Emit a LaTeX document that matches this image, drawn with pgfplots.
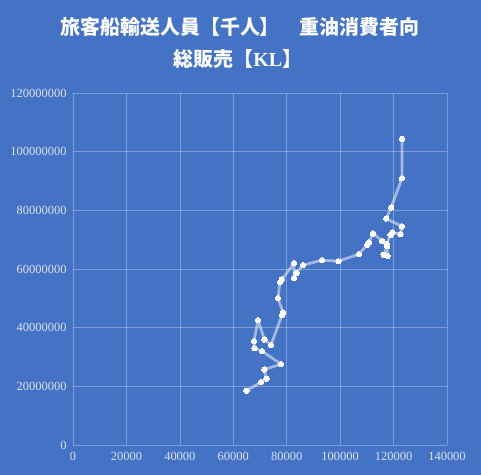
\documentclass[border=0pt]{standalone}
\usepackage{pgfplots}
\pgfplotsset{compat=1.18}
\usepackage{fontspec}
\setmainfont{Liberation Serif}
\newfontfamily\cjk{Noto Sans CJK JP}
\definecolor{bgblue}{RGB}{68,114,196}
\definecolor{ticklab}{RGB}{222,226,235}
\begin{document}
\begin{tikzpicture}[x=1bp,y=1bp]
\fill[bgblue] (-73,-30) rectangle (408,445);
\begin{axis}[
  at={(0,0)}, anchor=south west,
  scale only axis, width=374bp, height=352bp,
  xmin=0, xmax=140000, ymin=0, ymax=120000000,
  axis line style={draw=none},
  grid=major, major grid style={draw=white, draw opacity=0.3, line width=0.6pt},
  tick style={draw=none},
  xtick={0,20000,40000,60000,80000,100000,120000,140000},
  xticklabels={0,20000,40000,60000,80000,100000,120000,140000},
  ytick={0,20000000,40000000,60000000,80000000,100000000,120000000},
  yticklabels={0,20000000,40000000,60000000,80000000,100000000,120000000},
  scaled x ticks=false, scaled y ticks=false,
  ticklabel style={font=\fontsize{12.5}{13}\selectfont, text=ticklab},
  x tick label style={yshift=-4bp},
  y tick label style={xshift=-3bp},
  clip=false,
]
\addplot[draw=white, draw opacity=0.5, line width=2.8pt, line join=round,
  mark=*, mark size=2.7bp, mark options={draw=white, fill=white, draw opacity=1, line width=0pt}]
coordinates {
(64904,18460000)
(70368,21430000)
(72390,22560000)
(71641,25730000)
(77854,27580000)
(70743,32010000)
(67898,33040000)
(67748,35430000)
(69246,42530000)
(71641,35970000)
(74111,34060000)
(78229,44300000)
(78603,45190000)
(76732,50030000)
(77480,55500000)
(78191,56420000)
(82720,61980000)
(82720,56930000)
(83618,58640000)
(86089,61300000)
(93201,63000000)
(99339,62660000)
(107050,65050000)
(110119,68290000)
(110793,68980000)
(112290,72150000)
(115734,69560000)
(117605,67780000)
(116295,64810000)
(117792,64440000)
(117400,68600000)
(118915,71600000)
(119551,72390000)
(122546,71880000)
(123145,74540000)
(117231,77170000)
(119102,81020000)
(123145,90920000)
(123145,104370000)
};
\end{axis}
\node[text=white, font=\cjk\bfseries\fontsize{20}{20}\selectfont] at (167,418.5) {旅客船輸送人員【千人】　重油消費者向};
\node[text=white, font=\cjk\bfseries\fontsize{20}{20}\selectfont] at (165,386.5) {総販売【{\rmfamily\bfseries KL}】};
\end{tikzpicture}
\end{document}
